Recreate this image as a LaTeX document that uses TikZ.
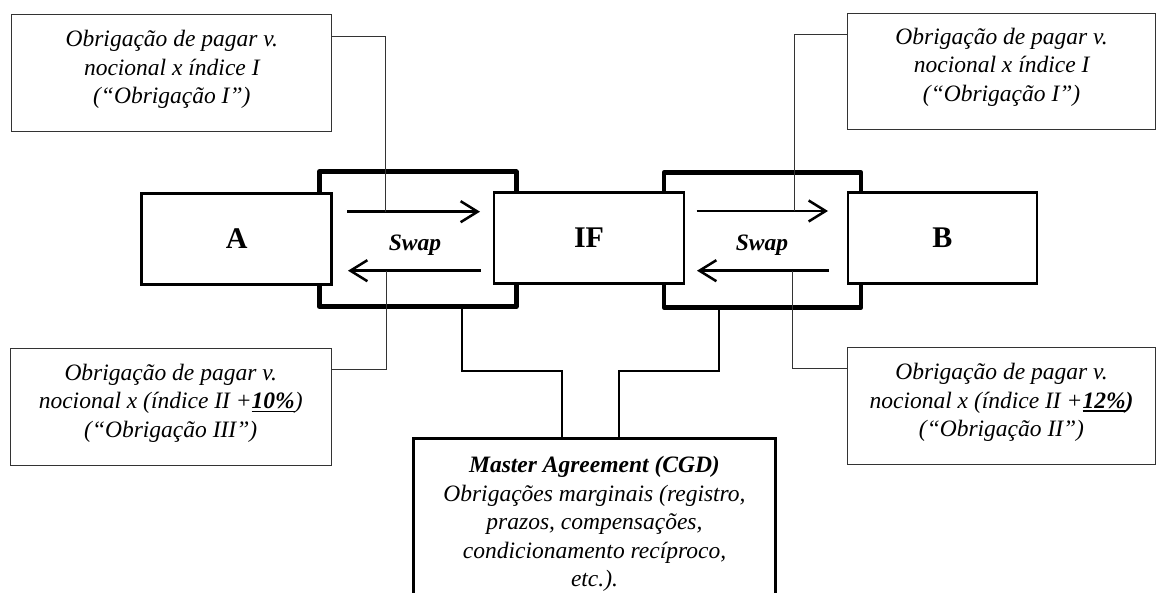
\documentclass[tikz,border=0pt]{standalone}
\usepackage{fontspec}
\setmainfont{Liberation Serif}
\usetikzlibrary{arrows.meta}
% heavy underline for the emphasised rates
\newcommand\heavyul[1]{\setbox0\hbox{#1}\rlap{\rule[-3.5pt]{\wd0}{1.8pt}}\box0}
\begin{document}
\begin{tikzpicture}[x=1pt,y=-1pt,
  party/.style={draw, line width=2.5pt, fill=white, minimum width=190pt,
    minimum height=91pt, inner sep=0pt, font=\fontsize{30}{34}\selectfont\bfseries},
  swapbox/.style={draw, line width=4.5pt, line join=round, minimum width=197pt,
    minimum height=135pt, inner sep=0pt},
  callout/.style={draw=black!80, line width=1pt, minimum height=116.7pt, inner sep=0pt},
  calltext/.style={align=center, inner sep=0pt,
    font=\fontsize{23.5}{28.5}\selectfont\itshape},
  swaplabel/.style={inner sep=0pt, font=\fontsize{23.5}{28.5}\selectfont\bfseries\itshape},
  flow/.style={line width=2.5pt, -{Straight Barb[length=17pt,width=21pt]}},
  lead/.style={draw=black!80, line width=1pt},
  tie/.style={line width=2pt},
]
\useasboundingbox (0,0) rectangle (1156,593);
\clip (0,0) rectangle (1156,593);

% swap frames (behind the parties)
\node[swapbox] (swL) at (417.8,239.2) {};
\node[swapbox] (swR) at (762.5,240) {};

% parties
\node[party] (A) at (236.7,239) {A};
\node[party] (IF) at (589,238) {IF};
\node[party, minimum width=189.3pt] (B) at (942.4,238) {B};

\node[swaplabel] (swLtxt) at (415,245) {Swap};
\node[swaplabel] (swRtxt) at (762,245) {Swap};

% payment flows
\coordinate (aLt1) at (347,211.7);  \coordinate (aLt2) at (480,211.7);
\coordinate (aLb1) at (480.7,270.7);\coordinate (aLb2) at (348,270.7);
\coordinate (aRt1) at (696.7,211);  \coordinate (aRt2) at (828,211);
\coordinate (aRb1) at (829,270.7);  \coordinate (aRb2) at (697,270.7);
\draw[flow] (aLt1) -- (aLt2);
\draw[flow] (aLb1) -- (aLb2);
\draw[flow] (aRt1) -- (aRt2);
\draw[flow] (aRb1) -- (aRb2);

% points where the callout leads meet the flows
\coordinate (tLt) at (385,211.7);
\coordinate (tLb) at (386.5,270.7);
\coordinate (tRt) at (794,211);
\coordinate (tRb) at (792,270.7);

% callouts
\node[callout, minimum width=319.7pt] (c1) at (171.8,73.3) {};
\node[calltext] (c1txt) at ([yshift=3.5pt]c1.center)
  {Obrigação de pagar v.\\ nocional x índice I\\ (“Obrigação I”)};
\node[callout, minimum width=307.8pt, minimum height=116pt] (c2) at (1001.6,71.3) {};
\node[calltext] (c2txt) at ([yshift=4pt]c2.center)
  {Obrigação de pagar v.\\ nocional x índice I\\ (“Obrigação I”)};
\node[callout, minimum width=320.7pt] (c3) at (170.7,406.7) {};
\node[calltext] (c3txt) at ([yshift=3.5pt]c3.center)
  {Obrigação de pagar v.\\ nocional x (índice II +\heavyul{\textbf{10\%}})\\ (“Obrigação III”)};
\node[callout, minimum width=308pt, minimum height=117.3pt] (c4) at (1001.5,406.3) {};
\node[calltext] (c4txt) at ([yshift=3.5pt]c4.center)
  {Obrigação de pagar v.\\ nocional x (índice II +\heavyul{\textbf{12\%}}\textbf{)}\\ (“Obrigação II”)};

\draw[lead] ([yshift=-21.7pt]c1.north east) -| (tLt);
\draw[lead] ([yshift=-21.7pt]c2.north west) -| (tRt);
\draw[lead] (tLb) |- ([yshift=-21.7pt]c3.north east);
\draw[lead] (tRb) |- ([yshift=-21.7pt]c4.north west);

% master agreement
\node[draw, line width=2.5pt, minimum width=362.4pt, minimum height=200pt,
  inner sep=0pt, anchor=north] (M) at (594.5,437) {};
\node[calltext] (Mtxt) at (594.5,524)
  {\textbf{Master Agreement (CGD)}\\ Obrigações marginais (registro,\\
   prazos, compensações,\\ condicionamento recíproco,\\ etc.).};

\coordinate (mL) at (461.7,371); \coordinate (kL) at (562.3,371);
\coordinate (mR) at (719,371);   \coordinate (kR) at (619,371);
\draw[tie] (swL.south -| mL) -- (mL) -- (kL) -- (M.north -| kL);
\draw[tie] (swR.south -| mR) -- (mR) -- (kR) -- (M.north -| kR);
\end{tikzpicture}
\end{document}
